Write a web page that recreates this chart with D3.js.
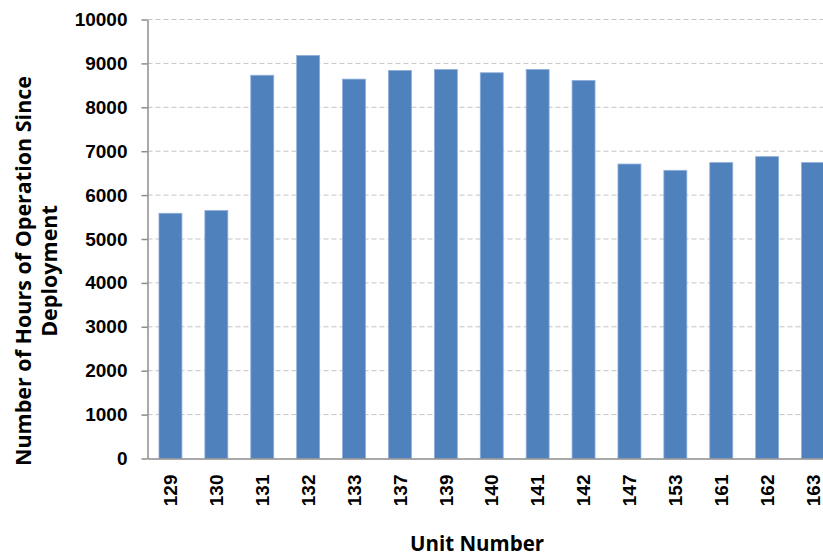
<!DOCTYPE html>
<html>
<head>
<meta charset="utf-8">
<script src="https://cdn.jsdelivr.net/npm/d3@7"></script>
<style>
  body { margin: 0; background: #fff; }
  svg { display: block; }
</style>
</head>
<body>
<div id="chart"></div>
<script>
var units = ["129", "130", "131", "132", "133", "137", "139", "140", "141", "142", "147", "153", "161", "162", "163"];
var hours = [5586, 5648, 8730, 9181, 8642, 8840, 8862, 8787, 8862, 8612, 6708, 6564, 6740, 6876, 6740];
var yTicks = [0, 1000, 2000, 3000, 4000, 5000, 6000, 7000, 8000, 9000, 10000];

var w = 823, h = 558;
var marginLeft = 147.5, marginTop = 19.5;
var stepW = 45.9;
var contentsWidth = stepW * units.length, contentsHeight = 439;

var svg = d3.select("#chart").append("svg")
  .attr("width", w)
  .attr("height", h);

var chartG = svg.append("g")
  .attr("transform", "translate(" + marginLeft + ", " + marginTop + ")");

var xScale = d3.scaleBand().domain(units).range([0, contentsWidth]).paddingInner(0.5).paddingOuter(0.25);
var yScale = d3.scaleLinear().domain([0, 10000]).range([contentsHeight, 0]);

// gridlines
chartG.append("g")
  .attr("class", "gridline")
  .selectAll("line")
  .data(yTicks.filter(function(d) { return d > 0; }))
  .enter().append("line")
  .attr("x1", 0)
  .attr("x2", contentsWidth)
  .attr("y1", function(d) { return yScale(d); })
  .attr("y2", function(d) { return yScale(d); })
  .style("stroke", "#c4c4c4")
  .style("stroke-width", 1)
  .style("stroke-dasharray", "5,3");

// bars
chartG.append("g")
  .selectAll("rect")
  .data(hours)
  .enter().append("rect")
  .attr("x", function(d, i) { return xScale(units[i]); })
  .attr("y", function(d) { return yScale(d); })
  .attr("width", xScale.bandwidth())
  .attr("height", function(d) { return contentsHeight - yScale(d); })
  .style("fill", "#4f81bd")
  .style("stroke", "#8eaedb")
  .style("stroke-width", 0.8);

// y axis
var yAxis = chartG.append("g")
  .attr("class", "y axis")
  .call(d3.axisLeft(yScale).tickValues(yTicks).tickFormat(d3.format("d")).tickSize(6).tickPadding(14).tickSizeOuter(0));
yAxis.select("path").style("stroke", "#8c8c8c").style("stroke-width", 1.5);
yAxis.selectAll("line").style("stroke", "#8c8c8c").style("stroke-width", 1.5);
yAxis.selectAll("text")
  .style("font-family", "'Liberation Sans', Arial, sans-serif")
  .style("font-size", "19px")
  .style("font-weight", "bold")
  .style("fill", "#000");

// x axis
var xAxis = chartG.append("g")
  .attr("class", "x axis")
  .attr("transform", "translate(0, " + contentsHeight + ")")
  .call(d3.axisBottom(xScale).tickSize(0).tickSizeOuter(0));
xAxis.select("path").style("stroke", "#8c8c8c").style("stroke-width", 1.5);
xAxis.selectAll("text")
  .attr("transform", "rotate(-90)")
  .attr("x", -16)
  .attr("y", 0)
  .attr("dy", "0.35em")
  .style("text-anchor", "end")
  .style("font-family", "'Liberation Sans', Arial, sans-serif")
  .style("font-size", "19px")
  .style("font-weight", "bold")
  .style("fill", "#000");

// axis titles
svg.append("text")
  .attr("transform", "translate(31, 271) rotate(-90)")
  .attr("text-anchor", "middle")
  .style("font-family", "'Open Sans', sans-serif")
  .style("font-size", "21.5px")
  .style("font-weight", "bold")
  .text("Number of Hours of Operation Since");

svg.append("text")
  .attr("transform", "translate(57, 271) rotate(-90)")
  .attr("text-anchor", "middle")
  .style("font-family", "'Open Sans', sans-serif")
  .style("font-size", "21.5px")
  .style("font-weight", "bold")
  .text("Deployment");

svg.append("text")
  .attr("x", 477)
  .attr("y", 551)
  .attr("text-anchor", "middle")
  .style("font-family", "'Open Sans', sans-serif")
  .style("font-size", "20.5px")
  .style("font-weight", "bold")
  .text("Unit Number");
</script>
</body>
</html>
